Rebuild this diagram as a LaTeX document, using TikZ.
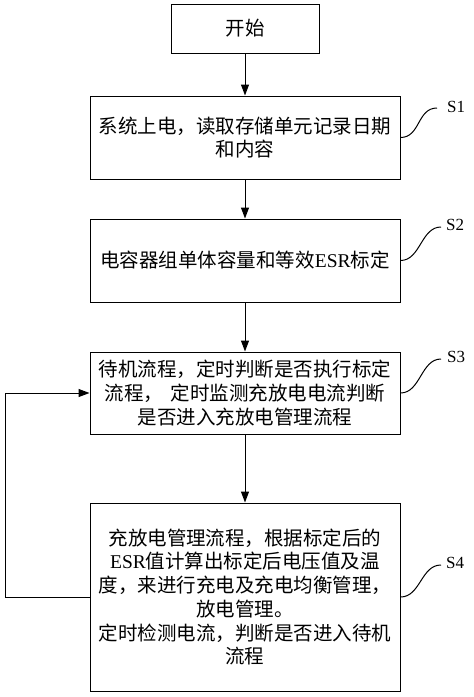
\documentclass[tikz,border=0pt]{standalone}
\usepackage{fontspec}
\setmainfont{Liberation Serif}
\newfontfamily\cjk{Noto Sans CJK SC}
\usetikzlibrary{arrows.meta}
\begin{document}
\begin{tikzpicture}[x=1pt,y=-1pt,
  box/.style={draw, line width=1pt, inner sep=0pt, align=center,
    font=\cjk\fontsize{19.5}{23.7}\selectfont, text width=300pt, minimum width=310pt},
  arr/.style={line width=1pt, -{Triangle[length=11pt,width=8pt]}},
  wave/.style={line width=1pt},
  slabel/.style={font=\rmfamily\fontsize{17}{17}\selectfont, anchor=west, inner sep=0pt}]
\useasboundingbox (0,0) rectangle (474,697);
\node[box, text width=140pt, minimum width=148pt, minimum height=49pt] (start) at (245,28.5) {开始};
\node[box, minimum height=83pt] (s1) at (245,137.5) {系统上电，读取存储单元记录日期\\和内容};
\node[box, minimum height=83pt] (s2) at (245,260.5) {电容器组单体容量和等效{\rmfamily ESR}标定};
\node[box, minimum height=82pt] (s3) at (245,393) {待机流程，定时判断是否执行标定\\流程，\hspace{0.4em}定时监测充放电电流判断\\是否进入充放电管理流程};
\node[box, minimum height=188pt] (s4) at (245,597) {充放电管理流程，根据标定后的\\{\rmfamily ESR}值计算出标定后电压值及温\\度，来进行充电及充电均衡管理，\\放电管理。\\定时检测电流，判断是否进入待机\\流程};
\draw[arr] (start) -- (s1);
\draw[arr] (s1) -- (s2);
\draw[arr] (s2) -- (s3);
\draw[arr] (s3) -- (s4);
\coordinate (fb) at (5,597);
\draw[arr] (s4.west) -- (fb) |- (s3.west);
\coordinate (w1) at (437,108);
\coordinate (w2) at (441,227);
\coordinate (w3) at (441,359);
\coordinate (w4) at (441,565);
\draw[wave] (s1.east) .. controls +(20,0) and +(-20,0) .. (w1);
\draw[wave] (s2.east) .. controls +(20,0) and +(-20,0) .. (w2);
\draw[wave] (s3.east) .. controls +(20,0) and +(-20,0) .. (w3);
\draw[wave] (s4.east) .. controls +(20,0) and +(-20,0) .. (w4);
\node[slabel] (l1) at (447,107) {S1};
\node[slabel] (l2) at (446,225) {S2};
\node[slabel] (l3) at (447,357) {S3};
\node[slabel] (l4) at (446,563) {S4};
\end{tikzpicture}
\end{document}
